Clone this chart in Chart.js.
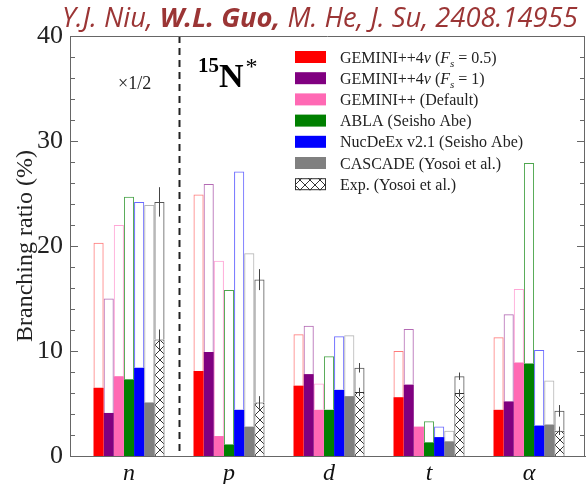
<!DOCTYPE html>
<html>
<head>
<meta charset="utf-8">
<script src="https://cdn.jsdelivr.net/npm/chart.js@4.4.1/dist/chart.umd.min.js"></script>
<style>
  html, body { margin: 0; padding: 0; background: #fff; }
  canvas { display: block; }
</style>
</head>
<body>
<canvas id="myChart" width="587" height="484"></canvas>
<script>
// categories and models
const categories = ['n', 'p', 'd', 't', 'α'];
const models = [
  'GEMINI++4v (Fs = 0.5)',
  'GEMINI++4v (Fs = 1)',
  'GEMINI++ (Default)',
  'ABLA (Seisho Abe)',
  'NucDeEx v2.1 (Seisho Abe)',
  'CASCADE (Yosoi et al.)',
  'Exp. (Yosoi et al.)'
];
// outline bar height (total) per model, n values are x1/2
const totals = [
  [20.3, 24.9, 11.6, 10.0, 11.3],
  [15.0, 25.9, 12.4, 12.1, 13.5],
  [22.0, 18.6, 6.9, 2.8, 15.9],
  [24.7, 15.8, 9.5, 3.3, 27.9],
  [24.2, 27.1, 11.4, 2.8, 10.1],
  [23.9, 19.3, 11.5, 2.4, 7.2],
  [24.2, 16.8, 8.4, 7.6, 4.3]
];
// filled part of each bar
const filled = [
  [6.5, 8.1, 6.7, 5.6, 4.4],
  [4.1, 9.9, 7.8, 6.8, 5.2],
  [7.6, 1.9, 4.4, 2.8, 8.9],
  [7.3, 1.1, 4.4, 1.3, 8.8],
  [8.4, 4.4, 6.3, 1.8, 2.9],
  [5.1, 2.8, 5.7, 1.4, 3.0],
  [11.1, 5.1, 6.1, 6.0, 2.4]
];
// experimental errors
const expTotalErr = [1.4, 1.0, 0.45, 0.35, 0.55];
const expFilledErr = [0.95, 0.6, 0.4, 0.35, 0.4];
const yTicks = [0, 10, 20, 30, 40];

const fillColors = ['#ff0000', '#800080', '#ff69b4', '#008000', '#0000ff', '#808080', null];
const lineColors = ['#ff7a7a', '#b46ab4', '#ffa6d6', '#4ea64e', '#6a6aff', '#b4b4b4', '#555555'];

// cross hatch pattern for Exp.
function makeHatch() {
  const c = document.createElement('canvas');
  c.width = 10; c.height = 10;
  const g = c.getContext('2d');
  g.fillStyle = '#fff';
  g.fillRect(0, 0, 10, 10);
  g.strokeStyle = '#333';
  g.lineWidth = 1;
  g.beginPath();
  g.moveTo(0, 0); g.lineTo(10, 10);
  g.moveTo(10, 0); g.lineTo(0, 10);
  g.stroke();
  return g.createPattern(c, 'repeat');
}

const ctx = document.getElementById('myChart').getContext('2d');
const hatch = makeHatch();
const expIdx = models.length - 1;

const datasets = [];
models.forEach((name, i) => {
  const isExp = i === expIdx;
  datasets.push({
    label: name,
    stack: 's' + i,
    data: filled[i].map((v, k) => ({x: k, y: v})),
    backgroundColor: isExp ? hatch : fillColors[i],
    borderColor: '#333',
    borderWidth: isExp ? 1 : 0
  });
  datasets.push({
    label: name + ' total',
    stack: 's' + i,
    data: totals[i].map((v, k) => ({x: k, y: v - filled[i][k]})),
    backgroundColor: 'rgba(255,255,255,0)',
    borderColor: lineColors[i],
    borderWidth: 1,
    borderSkipped: 'bottom'
  });
});

const serif = '"Liberation Serif", "Times New Roman", serif';

const plotDecor = {
  id: 'plotDecor',
  beforeDraw(chart) {
    const c = chart.ctx;
    c.save();
    c.fillStyle = '#fff';
    c.fillRect(0, 0, chart.width, chart.height);
    c.restore();
  },
  afterDatasetsDraw(chart) {
    const c = chart.ctx;
    const xs = chart.scales.x, ys = chart.scales.y;
    const a = chart.chartArea;
    c.save();
    // error bars on Exp.
    const metaT = chart.getDatasetMeta(expIdx * 2 + 1);
    c.strokeStyle = '#444';
    c.lineWidth = 1;
    for (let k = 0; k < categories.length; k++) {
      const x = Math.round(metaT.data[k].x) + 0.5;
      const t = totals[expIdx][k], f = filled[expIdx][k];
      c.beginPath();
      c.moveTo(x, ys.getPixelForValue(t + expTotalErr[k]));
      c.lineTo(x, ys.getPixelForValue(t - expTotalErr[k]));
      c.moveTo(x, ys.getPixelForValue(f + expFilledErr[k]));
      c.lineTo(x, ys.getPixelForValue(f - expFilledErr[k]));
      c.stroke();
    }
    // dashed separator between n and p
    const dx = Math.round(xs.getPixelForValue(0.5)) + 0.5;
    c.strokeStyle = '#222';
    c.lineWidth = 2;
    c.setLineDash([7, 5]);
    c.beginPath();
    c.moveTo(dx, a.top);
    c.lineTo(dx, a.bottom);
    c.stroke();
    c.setLineDash([]);
    // frame: top and right
    c.strokeStyle = '#666';
    c.lineWidth = 1;
    c.beginPath();
    c.moveTo(a.left, a.top + 0.5);
    c.lineTo(a.right, a.top + 0.5);
    c.moveTo(a.right - 0.5, a.top);
    c.lineTo(a.right - 0.5, a.bottom);
    c.stroke();
    // inward ticks on left and right
    c.beginPath();
    for (let v = 0; v <= 40; v += 2) {
      const y = Math.round(ys.getPixelForValue(v)) + 0.5;
      const len = v % 10 === 0 ? 8 : 5;
      c.moveTo(a.left, y); c.lineTo(a.left + len, y);
      c.moveTo(a.right, y); c.lineTo(a.right - len, y);
    }
    c.stroke();
    c.restore();
  },
  afterDraw(chart) {
    const c = chart.ctx;
    const xs = chart.scales.x, ys = chart.scales.y;
    const a = chart.chartArea;
    c.save();
    // x1/2 note
    c.fillStyle = '#222';
    c.font = '18px ' + serif;
    c.textBaseline = 'alphabetic';
    c.fillText('×1/2', xs.getPixelForValue(-0.11), ys.getPixelForValue(35.0));
    // 15N*
    const nx = xs.getPixelForValue(0.69);
    c.fillStyle = '#000';
    c.font = 'bold 21px ' + serif;
    c.fillText('15', nx, ys.getPixelForValue(36.6));
    let w = c.measureText('15').width;
    c.font = 'bold 34px ' + serif;
    c.fillText('N', nx + w, ys.getPixelForValue(35.1));
    w += c.measureText('N').width + 2;
    c.font = '24px ' + serif;
    c.fillText('*', nx + w, ys.getPixelForValue(36.4));

    // legend
    const lx = a.left + 225;
    const ly = a.top + 21;
    const step = 21.2;
    const rich = [
      [['GEMINI++4', ''], ['v', 'i'], [' (', ''], ['F', 'i'], ['s', 'sub'], [' = 0.5)', '']],
      [['GEMINI++4', ''], ['v', 'i'], [' (', ''], ['F', 'i'], ['s', 'sub'], [' = 1)', '']],
      [[models[2], '']],
      [[models[3], '']],
      [[models[4], '']],
      [[models[5], '']],
      [[models[6], '']]
    ];
    models.forEach((name, i) => {
      const yc = ly + i * step;
      if (i === expIdx) {
        c.fillStyle = hatch;
        c.fillRect(lx, yc - 6, 31, 12);
        c.strokeStyle = '#333';
        c.lineWidth = 1;
        c.strokeRect(lx + 0.5, yc - 5.5, 30, 11);
      } else {
        c.fillStyle = fillColors[i];
        c.fillRect(lx, yc - 6, 31, 12);
      }
      let tx = lx + 45;
      c.fillStyle = '#222';
      rich[i].forEach(([txt, st]) => {
        let dy = 0;
        if (st === 'i') c.font = 'italic 16px ' + serif;
        else if (st === 'sub') { c.font = 'italic 11px ' + serif; dy = 4; }
        else c.font = '16px ' + serif;
        c.fillText(txt, tx, yc + 5.5 + dy);
        tx += c.measureText(txt).width;
      });
    });

    // author line on top
    const parts = [
      ['Y.J. Niu, ', 'italic'],
      ['W.L. Guo,', 'italic bold'],
      [' M. He, J. Su, 2408.14955', 'italic']
    ];
    let size = 22;
    let total = 0;
    parts.forEach(([t, s]) => { c.font = s + ' ' + size + 'px "Open Sans"'; total += c.measureText(t).width; });
    size = size * 516 / total;
    let px = 62;
    c.fillStyle = '#9b3535';
    parts.forEach(([t, s]) => {
      c.font = s + ' ' + size.toFixed(2) + 'px "Open Sans"';
      c.fillText(t, px, 27);
      px += c.measureText(t).width;
    });
    c.restore();
  }
};

new Chart(ctx, {
  type: 'bar',
  data: { datasets: datasets },
  options: {
    responsive: false,
    animation: false,
    layout: { padding: { left: 0, right: 2, top: 36, bottom: 0 } },
    datasets: {
      bar: { categoryPercentage: 0.71, barPercentage: 1.0 }
    },
    plugins: {
      legend: { display: false },
      tooltip: { enabled: false }
    },
    scales: {
      x: {
        type: 'linear',
        offset: false,
        min: -0.59,
        max: 4.56,
        grid: { display: false, offset: false, drawTicks: false },
        border: { display: true, color: '#666', width: 1 },
        afterBuildTicks: (scale) => { scale.ticks = categories.map((c, k) => ({ value: k })); },
        afterFit: (scale) => { scale.height = 28; },
        ticks: {
          padding: 3,
          color: '#111',
          font: { family: serif, size: 24, style: 'italic' },
          callback: (v) => categories[v]
        }
      },
      y: {
        stacked: true,
        min: 0,
        max: 40,
        grid: { display: false, drawTicks: false },
        border: { display: true, color: '#666', width: 1 },
        afterBuildTicks: (scale) => { scale.ticks = yTicks.map(v => ({ value: v })); },
        afterFit: (scale) => { scale.width = 70; },
        ticks: {
          padding: 7,
          color: '#222',
          font: { family: serif, size: 26 }
        },
        title: {
          display: true,
          text: 'Branching ratio (%)',
          color: '#222',
          font: { family: serif, size: 24 },
          padding: { top: 11, bottom: 0 }
        }
      }
    }
  },
  plugins: [plotDecor]
});
</script>
</body>
</html>
